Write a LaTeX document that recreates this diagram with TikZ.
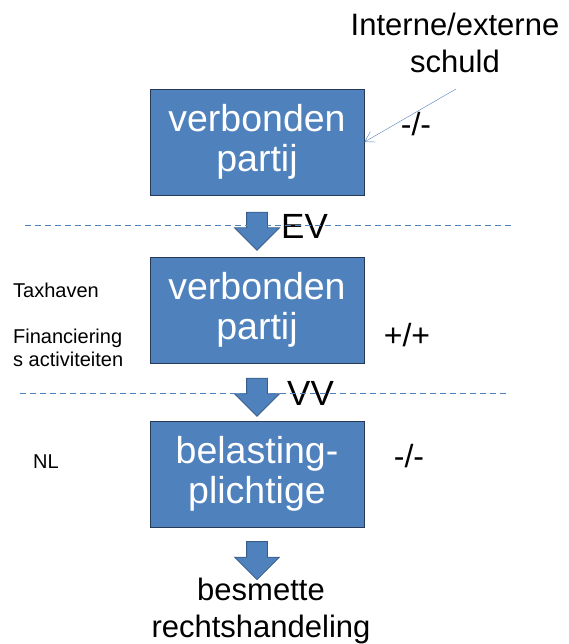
\documentclass[tikz,border=0pt]{standalone}
\usepackage{fontspec}
\setmainfont{Liberation Sans}
\usetikzlibrary{positioning,arrows.meta,calc,shapes.arrows}
\definecolor{boxblue}{RGB}{79,129,189}
\definecolor{boxedge}{RGB}{38,58,88}
\definecolor{arredge}{RGB}{56,93,138}
\tikzset{
  entity/.style={rectangle, draw=boxedge, fill=boxblue, thick, minimum width=214pt,
                 minimum height=106pt, inner sep=0pt, align=center, text=white,
                 font=\fontsize{37.5}{40}\selectfont},
  flow/.style={single arrow, draw=arredge, fill=boxblue, thick, shape border rotate=270,
               minimum height=38pt, single arrow head extend=12pt, inner sep=10pt},
  tag/.style={font=\fontsize{35}{40}\selectfont, inner sep=0pt},
  sign/.style={font=\fontsize{32}{36}\selectfont, inner sep=0pt},
  side/.style={font=\fontsize{20}{23}\selectfont, inner sep=0pt, anchor=west, align=left},
  caption/.style={font=\fontsize{31}{37}\selectfont, inner sep=0pt, align=center},
  border/.style={boxblue, line width=0.9pt, dash pattern=on 6pt off 4pt},
  link/.style={-{Straight Barb[length=10pt,width=12pt]}, boxblue, thin}
}

\begin{document}
\begin{tikzpicture}[x=1pt,y=-1pt]
\useasboundingbox (0,0) rectangle (569,644);
\node[entity] (vp1) at (257,142) {verbonden\\partij};
\node[entity] (vp2) at (257,310) {verbonden\\partij};
\node[entity] (bp) at (257,474) {belasting-\\plichtige};
\node[flow] (f1) at ($(vp1.south)!0.5!(vp2.north)$) {};
\node[flow] (f2) at ($(vp2.south)!0.5!(bp.north)$) {};
\node[flow] (f3) at ($(bp.south)+(0,28)$) {};
\node[caption] (res) at ($(f3)+(4,56)$) {besmette\\rechtshandeling};
\node[caption] (ie) at (455,43) {Interne/externe\\schuld};
\coordinate (ie0) at (456,89);
\draw[link] (ie0) -- (vp1.east);
\node[tag, anchor=west] (ev) at (281,226) {EV};
\node[tag, anchor=west] (vv) at (287,393) {VV};
\node[sign] (s1) at (416,124) {-/-};
\node[sign] (s2) at (407,335) {+/+};
\node[sign] (s3) at (409,456) {-/-};
\node[side] (th) at (13,290) {Taxhaven};
\node[side] (fa) at (13,348) {Financiering\\s activiteiten};
\node[side] (nl) at (33,462) {NL};
\coordinate (d1a) at (25,225);
\coordinate (d1b) at (513,225);
\coordinate (d2a) at (20,393);
\coordinate (d2b) at (507,393);
\draw[border] (d1a) -- (d1b);
\draw[border] (d2a) -- (d2b);
\end{tikzpicture}
\end{document}
